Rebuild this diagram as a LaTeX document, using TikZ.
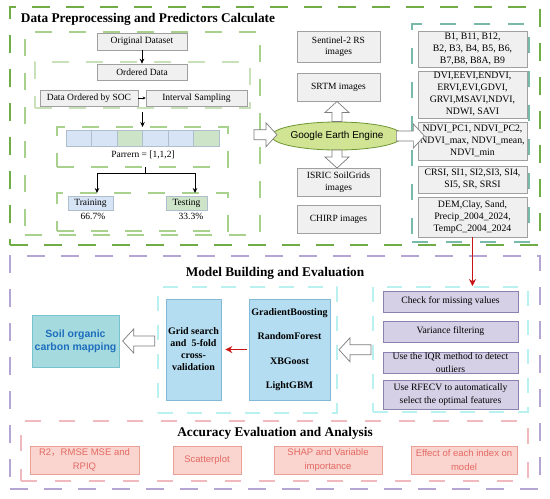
\documentclass[tikz,border=0pt]{standalone}
\usepackage{fontspec}
\setmainfont{Liberation Serif}
\newfontfamily\arialf{Liberation Sans}
\newfontfamily\cjkf{Noto Sans CJK SC}
\usetikzlibrary{arrows.meta,shapes.geometric,calc}
\definecolor{gA}{RGB}{112,173,71}
\definecolor{gB}{RGB}{169,209,142}
\definecolor{gC}{RGB}{200,225,185}
\definecolor{teal1}{RGB}{120,185,170}
\definecolor{purp}{RGB}{180,165,212}
\definecolor{cyan1}{RGB}{185,240,240}
\definecolor{pink1}{RGB}{240,185,190}
\definecolor{grayfill}{RGB}{240,240,240}
\definecolor{grayline}{RGB}{160,160,160}
\definecolor{cellblue}{RGB}{214,228,245}
\definecolor{cellgreen}{RGB}{205,228,200}
\definecolor{celledge}{RGB}{175,190,205}
\definecolor{geefill}{RGB}{208,228,148}
\definecolor{geeline}{RGB}{110,150,50}
\definecolor{mblue}{RGB}{180,221,241}
\definecolor{mblueline}{RGB}{130,185,215}
\definecolor{soilfill}{RGB}{165,218,222}
\definecolor{soilline}{RGB}{120,195,205}
\definecolor{soiltext}{RGB}{30,110,190}
\definecolor{lavfill}{RGB}{214,208,230}
\definecolor{lavline}{RGB}{140,130,175}
\definecolor{pinkfill}{RGB}{250,213,207}
\definecolor{pinkline}{RGB}{235,160,150}
\definecolor{pinktext}{RGB}{228,105,100}
\definecolor{redarr}{RGB}{200,20,20}
\definecolor{hollowline}{RGB}{125,125,125}
\tikzset{
  dashbase/.style={rectangle, inner sep=0pt, outer sep=0pt},
  dashA/.style={dashbase, draw=gA, line width=2.5pt, dash pattern=on 18pt off 16pt},
  dashB/.style={dashbase, draw=gB, line width=1.5pt, dash pattern=on 17pt off 17pt},
  dashC/.style={dashbase, draw=gC, line width=1.3pt, dash pattern=on 17pt off 17pt},
  dashT/.style={dashbase, draw=teal1, line width=1.5pt, dash pattern=on 16pt off 18pt},
  dashP/.style={dashbase, draw=purp, line width=2.5pt, dash pattern=on 18pt off 16pt},
  dashCy/.style={dashbase, draw=cyan1, line width=1.5pt, dash pattern=on 15pt off 14pt},
  dashPk/.style={dashbase, draw=pink1, line width=1.5pt, dash pattern=on 16pt off 18pt},
  title/.style={font=\bfseries\fontsize{13.3}{16}\selectfont, inner sep=0pt},
  txt/.style={font=\fontsize{9.5}{11.5}\selectfont, inner sep=0pt},
  gbox/.style={rectangle, draw=grayline, fill=grayfill, line width=0.6pt, inner sep=0pt, align=center, font=\fontsize{9.5}{11.5}\selectfont},
  colbx/.style={gbox, font=\fontsize{9.8}{12}\selectfont, minimum width=109pt},
  cellbox/.style={rectangle, draw=celledge, line width=0.5pt, inner sep=0pt, minimum width=25.5pt, minimum height=16pt},
  cellb/.style={cellbox, fill=cellblue},
  cellg/.style={cellbox, fill=cellgreen},
  geebox/.style={ellipse, draw=geeline, fill=geefill, line width=0.8pt, inner sep=0pt, minimum width=102pt, minimum height=28pt, font=\arialf\fontsize{10}{12}\selectfont},
  hollow/.style={draw=hollowline, fill=white, line width=0.7pt, line join=miter},
  pics/blockarr/.style={code={
    \draw[hollow] ({-#1/2},-5) -- ({#1/2-11},-5) -- ({#1/2-11},-12) -- ({#1/2},0)
      -- ({#1/2-11},12) -- ({#1/2-11},5) -- ({-#1/2},5) -- cycle;}},
  mbox/.style={rectangle, draw=mblueline, fill=mblue, line width=0.6pt, inner sep=0pt, align=center, font=\bfseries\fontsize{10}{12}\selectfont},
  soilbox/.style={rectangle, draw=soilline, fill=soilfill, line width=0.6pt, inner sep=0pt, align=center, text=soiltext, font=\arialf\bfseries\fontsize{10.5}{13}\selectfont},
  lavbox/.style={rectangle, draw=lavline, fill=lavfill, line width=0.6pt, inner sep=0pt, align=center, minimum width=135pt, font=\fontsize{9.7}{12.5}\selectfont},
  pinkbox/.style={rectangle, draw=pinkline, fill=pinkfill, line width=0.6pt, inner sep=0pt, align=center, minimum height=28pt, text=pinktext, font=\arialf\fontsize{9.5}{13.5}\selectfont},
  blk/.style={draw=black, line width=0.8pt, -{Stealth[length=5pt,width=4.5pt]}},
  redarrow/.style={draw=redarr, line width=1.6pt, -{Stealth[length=7pt,width=7pt]}}
}
\begin{document}
\begin{tikzpicture}[x=1pt,y=-1pt]
\fill[white] (0,0) rectangle (550,499);
\useasboundingbox (0,0) rectangle (550,499);

% ---------- top section ----------
\node[dashA, minimum width=530pt, minimum height=238pt] (outerA) at (275,126) {};
\node[title] (titleA) at (148,19) {Data Preprocessing and Predictors Calculate};
\node[dashB, minimum width=235pt, minimum height=203pt] (leftA) at (142.5,133.5) {};
\node[dashC, minimum width=215pt, minimum height=46pt] (orderbox) at (142.5,85) {};
\node[dashB, minimum width=171pt, minimum height=40pt] (patbox) at (142.5,147) {};
\node[dashB, minimum width=171pt, minimum height=38pt] (ttbox) at (142.5,212) {};
\node[dashT, minimum width=117pt, minimum height=218pt] (colbox) at (470.5,133) {};

\node[gbox, minimum width=90pt, minimum height=17pt] (orig) at (142,41.5) {Original Dataset};
\node[gbox, minimum width=90pt, minimum height=16pt] (ordered) at (142,72) {Ordered Data};
\node[gbox, minimum width=98pt, minimum height=16pt] (soc) at (89,98) {Data Ordered by SOC};
\node[gbox, minimum width=101pt, minimum height=16pt] (interval) at (196.5,98) {Interval Sampling};

\node[cellb] (c1) at (78.75,138) {};
\node[cellb] (c2) at (104.25,138) {};
\node[cellg] (c3) at (129.75,138) {};
\node[cellb] (c4) at (155.25,138) {};
\node[cellb] (c5) at (180.75,138) {};
\node[cellg] (c6) at (206.25,138) {};
\node[txt] (pattern) at (143,155) {Parrern = [1,1,2]};

\node[cellb, minimum width=45pt, minimum height=14pt, font=\fontsize{9.5}{11.5}\selectfont] (train) at (90.5,203) {Training};
\node[cellg, minimum width=41pt, minimum height=14pt, font=\fontsize{9.5}{11.5}\selectfont] (test) at (186.5,203) {Testing};
\node[txt] (p1) at (93,216) {66.7\%};
\node[txt] (p2) at (191,216) {33.3\%};

\draw[blk] (orig) -- (ordered);
\draw[draw=black, line width=0.6pt, -{Stealth[length=3pt,width=3pt]}] (soc) -- (interval);
\draw[blk, shorten <=4pt] (orderbox.south) -- (patbox.north);
\coordinate (fork) at (145,173);
\coordinate (ta) at (97,193);
\coordinate (tb) at (195,193);
\draw[black, line width=0.8pt] (patbox.south -| fork) -- (fork);
\draw[blk] (fork) -| (ta);
\draw[blk] (fork) -| (tb);

\node[gbox, minimum width=83pt, minimum height=31pt] (sentinel) at (338.5,46.5) {Sentinel-2 RS\\images};
\node[gbox, minimum width=83pt, minimum height=28pt] (srtm) at (338.5,87) {SRTM images};
\node[geebox] (gee) at (337,136) {Google Earth Engine};
\node[gbox, minimum width=83pt, minimum height=28pt] (isric) at (338.5,182) {ISRIC SoilGrids\\images};
\node[gbox, minimum width=83pt, minimum height=28pt] (chirp) at (338.5,219) {CHIRP images};

\node[colbx, minimum height=36pt] (bands) at (472.5,49) {B1, B11, B12,\\B2, B3, B4, B5, B6,\\B7,B8, B8A, B9};
\node[colbx, minimum height=47pt] (vis) at (472.5,94.5) {DVI,EEVI,ENDVI,\\ERVI,EVI,GDVI,\\GRVI,MSAVI,NDVI,\\NDWI, SAVI};
\node[colbx, minimum height=38pt] (ndvi) at (472.5,141) {NDVI\_PC1, NDVI\_PC2,\\NDVI\_max, NDVI\_mean,\\NDVI\_min};
\node[colbx, minimum height=27pt] (crsi) at (472.5,179.5) {CRSI, SI1, SI2,SI3, SI4,\\SI5, SR, SRSI};
\node[colbx, minimum height=40pt] (dem) at (472.5,217) {DEM,Clay, Sand,\\Precip\_2004\_2024,\\TempC\_2004\_2024};

% hollow block arrows around Google Earth Engine
\pic at ($(leftA.east)!0.5!(gee.west)$) {blockarr=23};
\pic[rotate=90] at ($(gee.north)!0.5!(gee.north |- srtm.south)$) {blockarr=20};
\pic[rotate=-90] at ($(gee.south)!0.5!(gee.south |- isric.north)$) {blockarr=18};
\pic at ($(gee.east)!0.5!(gee.east -| ndvi.west)$) {blockarr=28};

% ---------- middle section ----------
\node[dashP, minimum width=530pt, minimum height=233pt] (outerB) at (275,372.5) {};
\node[title] (titleB) at (275,273) {Model Building and Evaluation};
\node[dashCy, minimum width=179pt, minimum height=126pt] (cyanA) at (247.5,350) {};
\node[dashCy, minimum width=155pt, minimum height=125pt] (cyanB) at (450.5,349.5) {};

\node[mbox, minimum width=55pt, minimum height=101pt] (grid) at (193.5,349.5) {Grid search\\and~ 5-fold\\cross-\\validation};
\node[mbox, minimum width=81pt, minimum height=101pt] (models) at (289.5,349.5) {GradientBoosting\\[12.5pt]RandomForest\\[12.5pt]XBGoost\\[12.5pt]LightGBM};
\node[soilbox, minimum width=87pt, minimum height=52pt] (soil) at (75.5,341) {Soil organic\\carbon mapping};

\node[lavbox, minimum height=21pt] (check) at (450.5,301.5) {Check for missing values};
\node[lavbox, minimum height=21pt] (var) at (450.5,331.5) {Variance filtering};
\node[lavbox, minimum height=21pt] (iqr) at (450.5,362.5) {Use the IQR method to detect\\outliers};
\node[lavbox, minimum height=29pt] (rfecv) at (450.5,394.5) {Use RFECV to automatically\\select the optimal features};

\pic[rotate=180] at ($(soil.east)!0.5!(soil.east -| cyanA.west)$) {blockarr=32};
\pic[rotate=180] at ($(cyanA.east)!0.5!(cyanB.west)$) {blockarr=32};

\draw[redarrow, shorten <=2pt, shorten >=4pt] (models.west) -- (models.west -| grid.east);

% ---------- bottom section ----------
\node[dashPk, minimum width=507pt, minimum height=60pt] (pinkarea) at (274.5,451) {};
\node[title] (titleC) at (275,433) {Accuracy Evaluation and Analysis};
\node[pinkbox, minimum width=109pt] (r2) at (84.5,460) {R2{\cjkf ，}RMSE MSE and\\RPIQ};
\node[pinkbox, minimum width=68pt] (scatter) at (207,460) {Scatterplot};
\node[pinkbox, minimum width=108pt] (shap) at (328,460) {SHAP and Variable\\importance};
\node[pinkbox, minimum width=106pt] (effect) at (464,460) {Effect of each index on\\model};

\draw[redarrow, shorten >=1pt] (dem.south) -- (dem.south |- cyanB.north);
\end{tikzpicture}
\end{document}
